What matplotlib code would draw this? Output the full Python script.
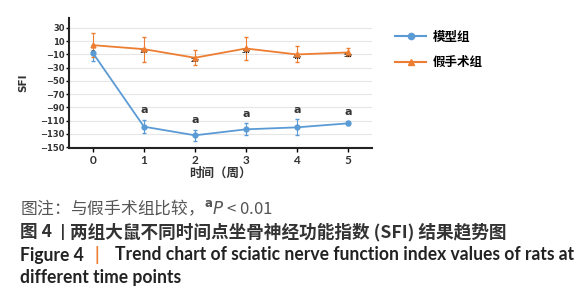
import matplotlib
matplotlib.use("Agg")
import matplotlib.pyplot as plt
from matplotlib.lines import Line2D

plt.rcParams['font.family'] = ['Noto Sans CJK SC', 'DejaVu Sans']

weeks = [0, 1, 2, 3, 4, 5]
model_vals = [-8, -119, -132, -123, -120, -114]
model_err = [12, 10, 8, 9, 12, 3]
sham_vals = [4, -2, -15, -1, -10, -7]
sham_err = [18, 19, 11, 18, 12, 6]
week_labels = ["0w", "1w", "2w", "3w", "4w", "5w"]
yticks = [30, 10, -10, -30, -50, -70, -90, -110, -130, -150]
xticks = [0, 1, 2, 3, 4, 5]
legend_labels = ["模型组", "假手术组"]

blue = "#5b9bd5"
orange = "#ed7d31"

fig = plt.figure(figsize=(5.8, 3.0), dpi=100)
ax = fig.add_axes([0.119, 0.507, 0.522, 0.433])

ax.errorbar(weeks, model_vals, yerr=model_err, color=blue, marker='o', markersize=3.5,
            lw=1.3, elinewidth=0.8, capsize=1.5, zorder=3)
ax.errorbar(weeks, sham_vals, yerr=sham_err, color=orange, marker='^', markersize=3.5,
            lw=1.3, elinewidth=0.8, capsize=1.5, zorder=3)

for x, y, e in zip(weeks[1:], model_vals[1:], model_err[1:]):
    ax.text(x, y + e + 7, "a", ha='center', va='bottom', fontsize=8, fontweight='bold',
            color='#333333', family=['DejaVu Sans'])
ax.text(0, model_vals[0] + 2, "a", ha='center', va='center', fontsize=5, fontweight='bold',
        color='#333333', family=['DejaVu Sans'])
for x, y, lab in zip(weeks[1:], sham_vals[1:], week_labels[1:]):
    ax.text(x, y - 4, lab, ha='center', va='center', fontsize=4, fontweight='bold',
            color='#222222', family=['DejaVu Sans'])

ax.set_xlim(-0.47, 5.47)
ax.set_ylim(-151, 45)
ax.set_yticks(yticks)
ax.set_xticks(xticks)
ax.set_yticklabels([str(t).replace('-', '−') for t in yticks], fontsize=6, fontweight='bold',
                   color='#333333', family=['DejaVu Sans'])
ax.set_xticklabels([str(t) for t in xticks], fontsize=8.5, fontweight='bold',
                   color='#333333', family=['Lato'])
ax.grid(axis='y', color='#e6e6e6', lw=0.8)
ax.set_axisbelow(True)
for s in ['top', 'right']:
    ax.spines[s].set_visible(False)
for s in ['left', 'bottom']:
    ax.spines[s].set_linewidth(1.5)
    ax.spines[s].set_color('#222222')
ax.tick_params(axis='y', length=2, width=1, pad=1)
ax.tick_params(axis='x', length=3, width=1, pad=2)

ax.set_xlabel("时间（周）", fontsize=9, fontweight='bold', color='#333333', labelpad=1)
ax.set_ylabel("SFI", fontsize=7.5, fontweight='bold', color='#333333', labelpad=9,
              family=['DejaVu Sans'])

handles = [Line2D([], [], color=blue, marker='o', markersize=4.5, lw=1.5),
           Line2D([], [], color=orange, marker='^', markersize=5, lw=1.5)]
ax.legend(handles, legend_labels, loc='upper left', bbox_to_anchor=(1.04, 0.99),
          frameon=False, handlelength=2.5, labelspacing=1.0, handletextpad=0.5,
          prop={'weight': 'bold', 'size': 9})

renderer = fig.canvas.get_renderer()
W, H = 580.0, 300.0


def fit_text(x0, x1, y, s, size, **kw):
    t = fig.text(x0 / W, 1 - y / H, s, fontsize=size, va='center', **kw)
    w = t.get_window_extent(renderer).width
    t.set_fontsize(size * (x1 - x0) / w)
    return t.get_fontsize()


def put(x0, y, s, size, **kw):
    fig.text(x0 / W, 1 - y / H, s, fontsize=size, va='center', **kw)


fit_text(20, 273, 208, "图注：与假手术组比较，$^{\\mathbf{a}}$$\\it{P}$ < 0.01", 11.5,
         color='#555555')
s2 = fit_text(70, 505, 232, "两组大鼠不同时间点坐骨神经功能指数 (SFI) 结果趋势图", 12,
              color='#333333', fontweight='bold')
put(20, 232, "图 4", s2, color='#333333', fontweight='bold')
put(63, 232, "|", s2 * 0.9, color='#333333', fontweight='bold', ha='center',
    family=['DejaVu Sans'])
s3 = fit_text(115, 572, 255, "Trend chart of sciatic nerve function index values of rats at",
              11.8, color='#222222', fontweight='bold', family=['Lato'])
put(20, 255, "Figure 4", s3, color='#222222', fontweight='bold', family=['Lato'])
put(97, 255, "|", s3, color=orange, fontweight='bold', ha='center', family=['Lato'])
put(20, 277, "different time points", s3, color='#222222', fontweight='bold',
    family=['Lato'])

fig.savefig("out.png", dpi=100)
